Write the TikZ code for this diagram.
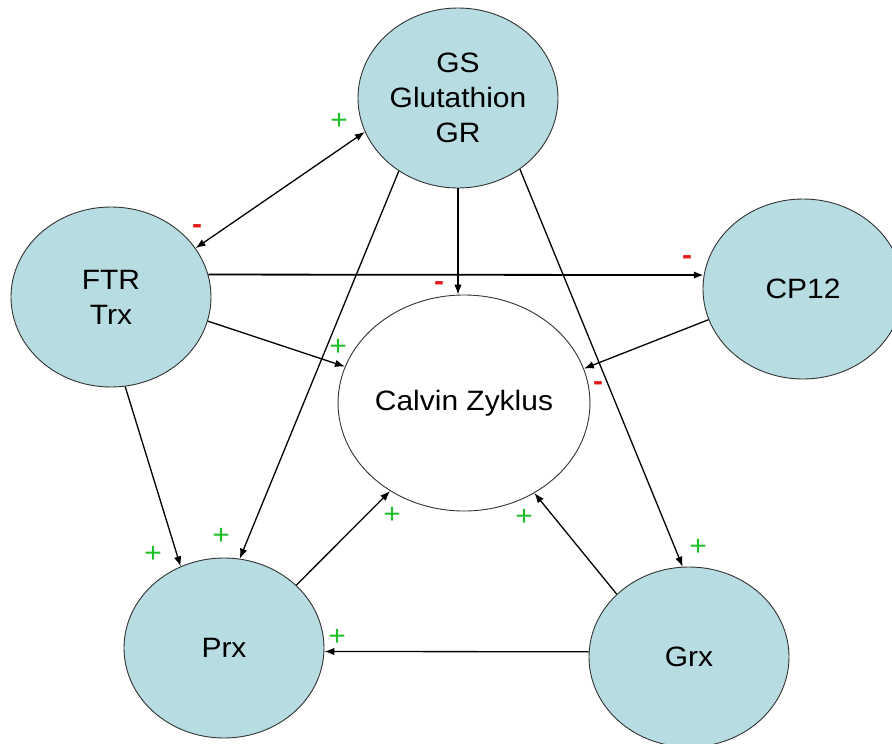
\documentclass[tikz,border=0pt]{standalone}
\usepackage{fontspec}
\setmainfont[FakeStretch=1.07]{Liberation Sans}
\usetikzlibrary{arrows.meta,shapes.geometric}
\definecolor{redoxfill}{RGB}{183,221,227}
\definecolor{plusgreen}{RGB}{30,190,40}
\definecolor{minusred}{RGB}{225,25,25}

\begin{document}
\begin{tikzpicture}[x=1pt, y=-1pt, >={Latex[length=10pt,width=7.5pt]},
    font=\fontsize{28}{35}\selectfont]
  % Define styles
  \tikzstyle{enzyme} = [ellipse, draw=black!80, line width=0.9pt, fill=redoxfill, minimum width=200pt, minimum height=180pt, inner sep=0pt, align=center]
  \tikzstyle{cycle} = [ellipse, draw=black!80, line width=0.9pt, fill=white, minimum width=242pt, minimum height=216pt, inner sep=0pt]
  \tikzstyle{line} = [draw, ->, line width=1.3pt]
  \tikzstyle{plus} = [text=plusgreen, inner sep=0pt]
  \tikzstyle{minus} = [text=minusred, inner sep=0pt, font=\fontsize{28}{35}\selectfont\bfseries]

  \useasboundingbox (0,0) rectangle (892,744);

  % Place nodes
  \node [enzyme] (gs) at (458,98) {GS\\Glutathion\\GR};
  \node [enzyme] (ftr) at (111,297) {FTR\\Trx};
  \node [enzyme] (cp12) at (803,289) {CP12};
  \node [cycle] (calvin) at (464,403) {Calvin Zyklus};
  \node [enzyme] (prx) at (224,648) {Prx};
  \node [enzyme] (grx) at (689,657) {Grx};

  % Draw edges
  \path [line, <->] (ftr.30) -- (gs.200);
  \path [line, line width=1.8pt] (ftr.13) -- (cp12.172);
  \path [line] (gs) -- (gs |- calvin.north);
  \path [line] (ftr.-14) -- (calvin.163);
  \path [line] (cp12.198) -- (calvin.16);
  \path [line] (ftr.-81) -- (prx.118);
  \path [line] (gs.231) -- (prx.80);
  \path [line] (gs.-49) -- (grx.94);
  \path [line] (prx.41) -- (calvin.230);
  \path [line] (grx.139) -- (calvin.-52);
  \path [line] (grx.177) -- (prx.-2);

  % Signs of the effects
  \node [plus] (pgs) at (339,121) {+};
  \node [minus] (mftr) at (197,229) {-};
  \node [minus] (mcp) at (687,260) {-};
  \node [minus] (mcal) at (439,286) {-};
  \node [plus] (pftr) at (338,347) {+};
  \node [minus] (mcal2) at (598,386) {-};
  \node [plus] (pprx1) at (153,554) {+};
  \node [plus] (pprx2) at (221,536) {+};
  \node [plus] (pgrx) at (698,547) {+};
  \node [plus] (pcal1) at (392,515) {+};
  \node [plus] (pcal2) at (524,517) {+};
  \node [plus] (pprx3) at (337,637) {+};
\end{tikzpicture}
\end{document}
